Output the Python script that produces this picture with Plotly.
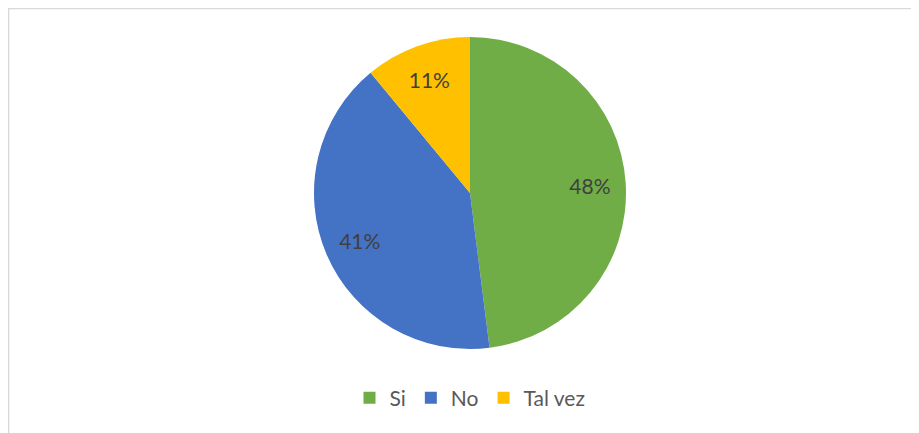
import plotly.graph_objects as go

categories = ["Si", "No", "Tal vez"]
values = [48, 41, 11]
colors = ["#70AD47", "#4472C4", "#FFC000"]

W, H = 919, 433
dom = dict(x=[306 / W, 618 / W], y=[1 - 341 / H, 1 - 29 / H])

# filled pie (no text)
pie_fill = go.Pie(
    labels=categories,
    values=values,
    sort=False,
    direction="clockwise",
    rotation=0,
    marker=dict(colors=colors, line=dict(width=0)),
    textinfo="none",
    domain=dom,
    hoverinfo="label+percent",
    name="",
)

# transparent ring used only to place percentage labels toward the outer part
pie_text = go.Pie(
    labels=categories,
    values=values,
    sort=False,
    direction="clockwise",
    rotation=0,
    hole=0.54,
    marker=dict(colors=["rgba(0,0,0,0)"] * len(categories), line=dict(width=0)),
    texttemplate="%{percent:.0%}",
    textposition="inside",
    insidetextorientation="horizontal",
    textfont=dict(family="Lato, Open Sans, sans-serif", size=21, color="#404040"),
    domain=dom,
    hoverinfo="skip",
    showlegend=False,
    name="",
)

fig = go.Figure([pie_fill, pie_text])

fig.update_layout(
    width=W, height=H,
    margin=dict(l=0, r=0, t=0, b=0),
    paper_bgcolor="white",
    plot_bgcolor="white",
    showlegend=True,
    legend=dict(
        orientation="h",
        x=462 / W, xanchor="center",
        y=1 - 390 / H, yanchor="middle",
        font=dict(family="Lato, Open Sans, sans-serif", size=21, color="#595959"),
        itemwidth=30,
        traceorder="normal",
    ),
    shapes=[
        dict(type="rect", xref="paper", yref="paper",
             x0=0.6 / W, x1=1 - 0.6 / W, y0=0.6 / H, y1=1 - 0.6 / H,
             line=dict(color="#D9D9D9", width=1.5)),
    ],
)

fig.write_html("out.html")
